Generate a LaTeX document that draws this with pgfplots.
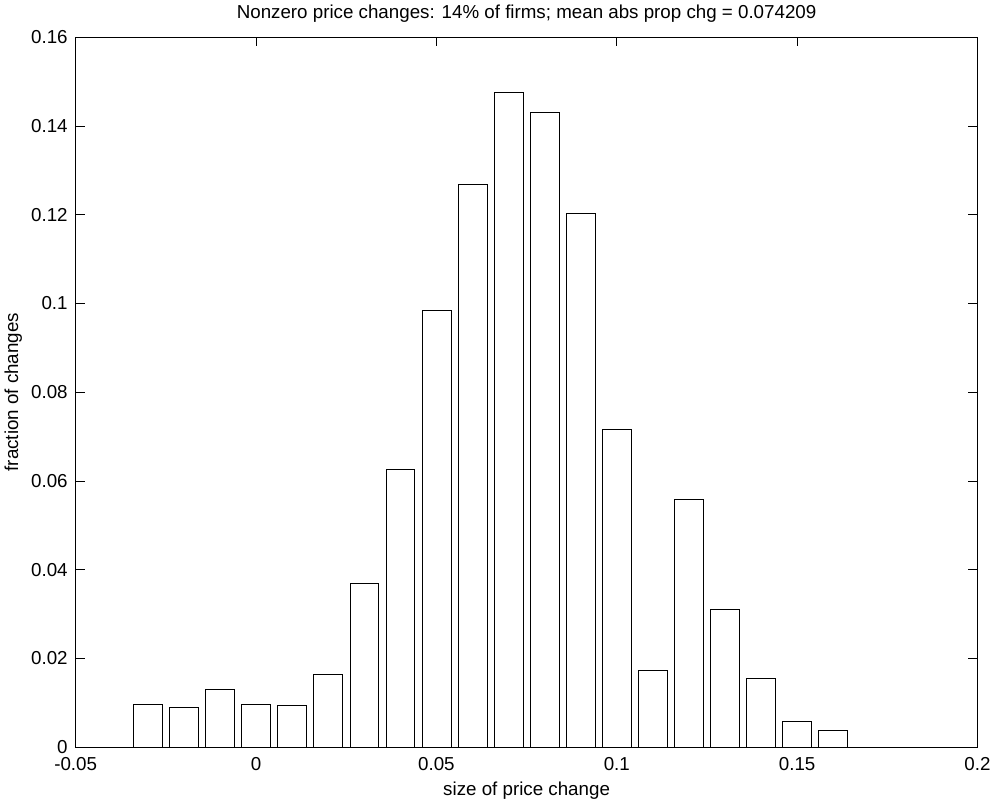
\documentclass[border=0pt]{standalone}
\usepackage{fontspec}
\setmainfont{Liberation Sans}
\usepackage{pgfplots}
\pgfplotsset{compat=1.18}
\begin{document}
\begin{tikzpicture}
\begin{axis}[
  scale only axis,
  width=673.5pt, height=530pt,
  xmin=-0.05, xmax=0.2, ymin=0, ymax=0.16,
  xtick={-0.05,0,0.05,0.1,0.15,0.2},
  xticklabels={-0.05,0,0.05,0.1,0.15,0.2},
  ytick={0,0.02,0.04,0.06,0.08,0.1,0.12,0.14,0.16},
  yticklabels={0,0.02,0.04,0.06,0.08,0.1,0.12,0.14,0.16},
  scaled ticks=false,
  tick align=inside,
  major tick length=6.75pt,
  xtick pos=both, ytick pos=both,
  tick style={black, line width=0.5pt},
  axis line style={black, line width=0.6pt},
  ticklabel style={font=\fontsize{14}{16.5}\selectfont},
  xticklabel style={yshift=-4pt},
  yticklabel style={xshift=-2.5pt},
  xlabel={size of price change},
  ylabel={fraction of changes},
  label style={font=\fontsize{14}{16.5}\selectfont},
  title={Nonzero price changes: 14\% of firms; mean abs prop chg = 0.074209},
  title style={font=\fontsize{14}{16.5}\selectfont, yshift=2pt},
  xlabel style={yshift=-2pt},
  ylabel style={yshift=0pt},
]
\addplot[ybar, bar width=0.008, draw=black, fill=white, line width=0.5pt] coordinates {
(-0.03,0.0096) (-0.02,0.0089) (-0.01,0.0131) (0.00,0.0097) (0.01,0.0094)
(0.02,0.0165) (0.03,0.0369) (0.04,0.0627) (0.05,0.0984) (0.06,0.1269)
(0.07,0.1476) (0.08,0.1431) (0.09,0.1204) (0.10,0.0716) (0.11,0.0172)
(0.12,0.0559) (0.13,0.0311) (0.14,0.0155) (0.15,0.0058) (0.16,0.0038)
};
\end{axis}
\end{tikzpicture}
\end{document}
